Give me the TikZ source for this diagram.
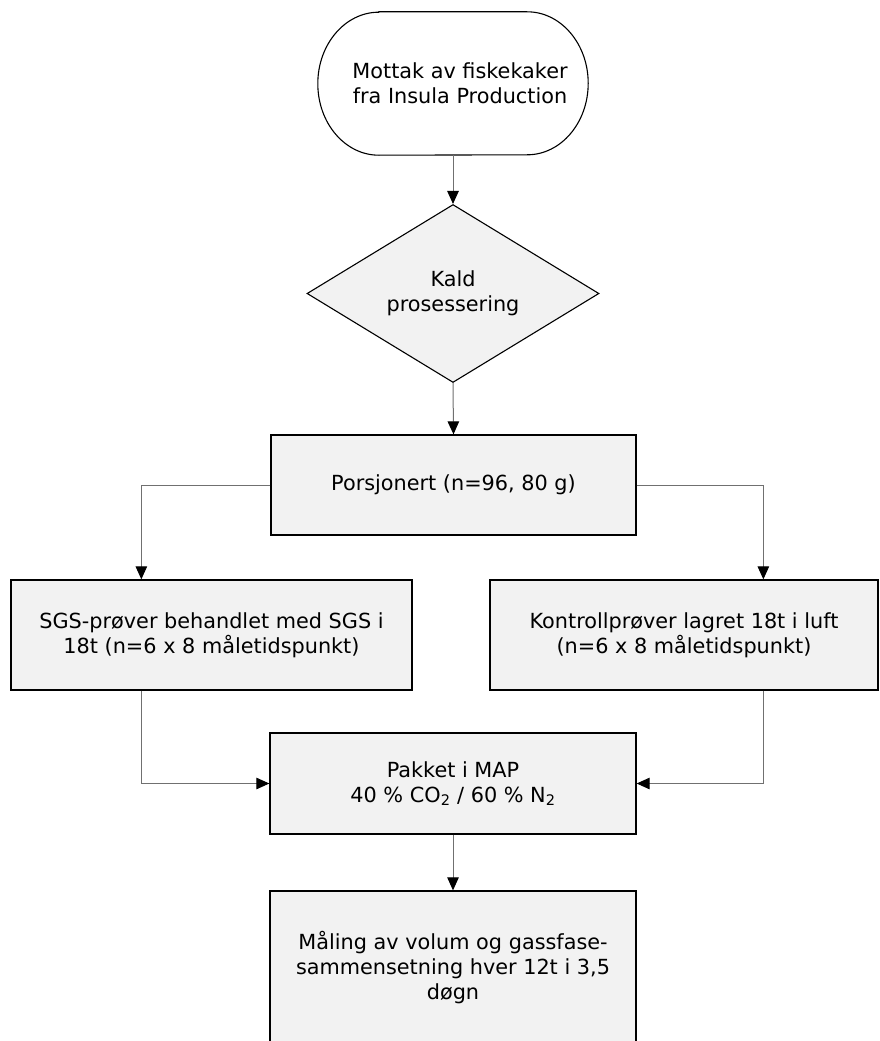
\documentclass[tikz,border=0pt]{standalone}
\usepackage{fontspec}
\setmainfont{DejaVu Sans}
\usetikzlibrary{shapes.geometric,arrows.meta,calc}
\definecolor{boxfill}{HTML}{F2F2F2}
\definecolor{linegray}{HTML}{707070}
\begin{document}
\begin{tikzpicture}[x=1pt,y=-1pt,
  every node/.style={font=\fontsize{20.8pt}{25pt}\selectfont, align=center, inner sep=0pt},
  boxstyle/.style={draw=black, line width=1.3pt, fill=boxfill, rectangle},
  termstyle/.style={rectangle},
  termline/.style={draw=black, line width=1.1pt, fill=white},
  decstyle/.style={draw=black, line width=1.1pt, fill=boxfill, diamond},
  conn/.style={draw=linegray, line width=1pt, -{Triangle[length=13pt,width=11.5pt,black]}}
]
\useasboundingbox (0,0) rectangle (880,1041);
\fill[white] (0,0) rectangle (880,1041);

\node[termstyle, minimum width=270pt, minimum height=143pt] (term) at (453,83.5) {};
\path[termline] ([xshift=61pt]term.north west) -- ([xshift=-61pt]term.north east)
  arc[start angle=90, end angle=-90, x radius=61pt, y radius=71.5pt]
  -- ([xshift=61pt]term.south west)
  arc[start angle=270, end angle=90, x radius=61pt, y radius=71.5pt] -- cycle;
\node at (term.center) {\hspace*{14pt}Mottak av fiskekaker\\\hspace*{14pt}fra Insula Production};
\node[decstyle, minimum width=292pt, minimum height=173pt] (dec) at (453,293.5)
  {Kald\\prosessering};
\node[boxstyle, minimum width=365pt, minimum height=100pt] (porsj) at (453.5,485)
  {Porsjonert (n=96, 80 g)};
\node[boxstyle, minimum width=401pt, minimum height=110pt] (sgs) at (211.5,635)
  {SGS-prøver behandlet med SGS i\\18t (n=6 x 8 måletidspunkt)};
\node[boxstyle, minimum width=388pt, minimum height=110pt] (kontroll) at (684,635)
  {Kontrollprøver lagret 18t i luft\\(n=6 x 8 måletidspunkt)};
\node[boxstyle, minimum width=366pt, minimum height=101pt] (map) at (453,783.5)
  {Pakket i MAP\\40 \% CO\textsubscript{2} / 60 \% N\textsubscript{2}};
\node[boxstyle, minimum width=366pt, minimum height=154pt] (last) at (453,968)
  {Måling av volum og gassfase-\\sammensetning hver 12t i 3,5\\døgn};

\coordinate (sgsin) at ([xshift=131pt]sgs.north west);
\coordinate (sgsout) at ([xshift=131pt]sgs.south west);
\coordinate (konin) at ([xshift=274pt]kontroll.north west);
\coordinate (konout) at ([xshift=274pt]kontroll.south west);

\draw[conn] (term.south) -- (dec.north);
\draw[conn] (dec.south) -- (porsj.north);
\draw[conn] (porsj.west) -| (sgsin);
\draw[conn] (porsj.east) -| (konin);
\draw[conn] (sgsout) |- (map.west);
\draw[conn] (konout) |- (map.east);
\draw[conn] (map.south) -- (last.north);
\end{tikzpicture}
\end{document}
